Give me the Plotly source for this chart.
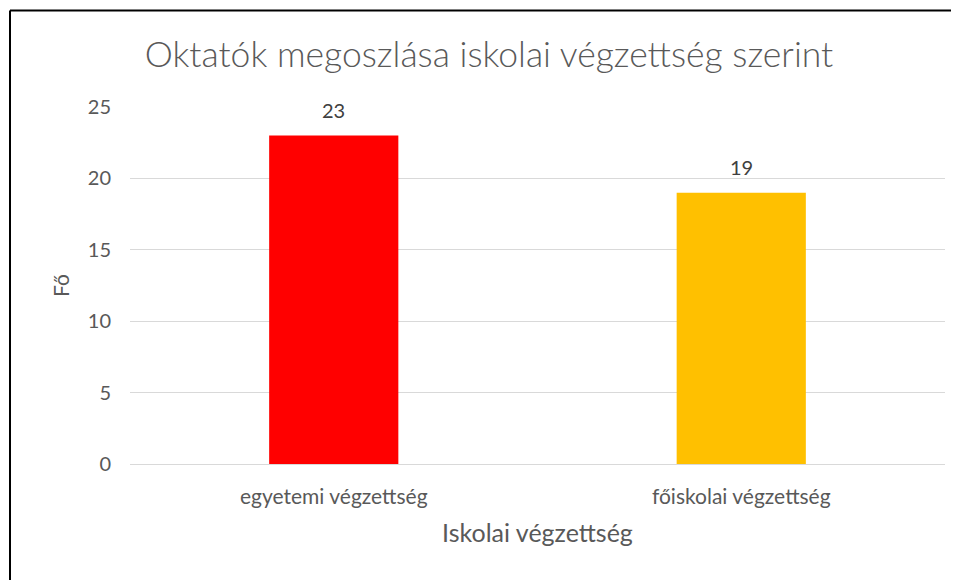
import plotly.graph_objects as go

categories = ["egyetemi végzettség", "főiskolai végzettség"]
values = [23, 19]
bar_colors = ["#FF0000", "#FFC000"]
y_ticks = [0, 5, 10, 15, 20, 25]

title_text = "Oktatók megoszlása iskolai végzettség szerint"
x_title = "Iskolai végzettség"
y_title = "Fő"

FONT = "Lato, 'Open Sans', sans-serif"
TXT = "#595959"

# page body has an 8px margin: size the figure so it fits the 959x580 window
FW, FH = 951, 572
OFF = 8

fig = go.Figure()
fig.add_trace(go.Bar(
    x=categories, y=values,
    marker=dict(color=bar_colors, line=dict(width=0)),
    hoverinfo="x+y",
))

for c, v in zip(categories, values):
    fig.add_annotation(x=c, y=v, text=str(v), showarrow=False,
                       yanchor="bottom", yshift=12,
                       font=dict(family=FONT, size=20, color="#404040"))

# plot area in figure pixels
L, T, W, H = 130 - OFF, 107 - OFF, 815, 357
def px_x(p): return (p - OFF - L) / W
def px_y(p): return (T + H - (p - OFF)) / H
# frame lines (top and left) at window pixels
fig.add_shape(type="line", xref="paper", yref="paper",
              x0=px_x(10), x1=px_x(970), y0=px_y(10.5), y1=px_y(10.5),
              line=dict(color="black", width=2))
fig.add_shape(type="line", xref="paper", yref="paper",
              x0=px_x(10), x1=px_x(10), y0=px_y(10.5), y1=px_y(590),
              line=dict(color="black", width=2))

fig.update_layout(
    width=FW, height=FH,
    margin=dict(l=L, r=FW - L - W, t=T, b=FH - T - H),
    paper_bgcolor="white", plot_bgcolor="white",
    bargap=0.683,
    showlegend=False,
    font=dict(family=FONT, color=TXT, size=16),
    title=dict(text=title_text, x=(489 - OFF) / FW, xanchor="center",
               y=1 - (55 - OFF) / FH, yanchor="middle", yref="container",
               font=dict(family=FONT, size=35.5, color=TXT, weight=300)),
    xaxis=dict(
        title=dict(text=x_title, font=dict(size=25, color=TXT), standoff=17),
        tickfont=dict(size=21, color=TXT),
        ticks="", showline=False, showgrid=False,
        ticklabelstandoff=18,
    ),
    yaxis=dict(
        title=dict(text=y_title, font=dict(size=21, color=TXT), standoff=12),
        range=[0, 25], tickvals=y_ticks,
        tickfont=dict(size=20, color=TXT),
        showgrid=True, gridcolor="#D9D9D9", gridwidth=1,
        zeroline=True, zerolinecolor="#D9D9D9", zerolinewidth=1,
        ticks="", showline=False,
        ticklabelstandoff=18,
    ),
)

fig.write_html("out.html")
